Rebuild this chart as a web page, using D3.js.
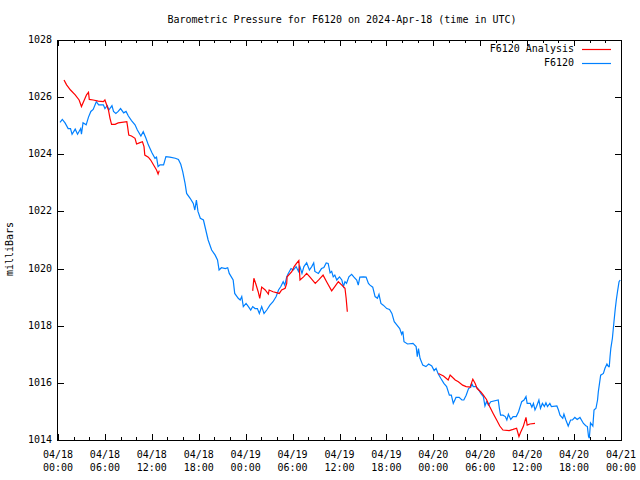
<!DOCTYPE html>
<html>
<head>
<meta charset="utf-8">
<script src="https://cdn.jsdelivr.net/npm/d3@7"></script>
<style>
  html, body { margin: 0; padding: 0; background: #fff; }
  svg { display: block; }
  text { font-family: "DejaVu Sans Mono", "Liberation Mono", monospace; font-size: 10px; fill: #000; }
</style>
</head>
<body>
<svg id="chart" width="640" height="480"></svg>
<script>
// ---- data (hours since 2024-04-18 00:00 UTC, pressure in mbar) ----
const obsHours = [0.26,0.55,0.9,1.3,1.6,1.8,2.2,2.5,2.9,3.0,3.2,3.6,3.9,4.2,4.5,4.9,5.2,5.8,6.0,6.3,6.5,6.9,7.1,7.4,7.7,8.0,8.4,8.7,9.0,9.4,9.85,10.15,10.6,10.9,11.25,11.55,12.0,12.4,12.6,12.8,13.05,13.5,13.8,14.3,15.0,15.4,15.7,15.95,16.25,16.45,16.9,17.3,17.5,17.7,17.9,18.2,18.6,18.9,19.2,19.65,20.1,20.4,20.6,20.9,21.4,21.7,21.9,22.4,22.6,23.05,23.3,23.5,23.7,24.05,24.35,24.65,24.9,25.2,25.5,25.75,26.05,26.35,26.7,27.1,27.5,27.9,28.2,28.5,28.8,29.0,29.25,29.45,29.8,30.1,30.45,30.75,30.9,31.2,31.45,31.8,32.15,32.45,32.7,32.85,33.3,33.7,34.0,34.3,34.55,34.8,35.0,35.2,35.4,35.65,36.0,36.3,36.5,36.7,36.9,37.2,37.55,37.85,38.2,38.4,38.6,39.05,39.4,39.7,39.9,40.25,40.55,40.85,41.05,41.3,41.6,42.05,42.4,42.7,43.0,43.35,43.7,43.95,44.1,44.25,44.7,45.4,45.8,45.95,46.1,46.3,46.65,47.05,47.4,47.8,48.1,48.35,48.6,48.95,49.35,49.7,50.05,50.3,50.4,50.55,50.9,51.3,51.65,51.9,52.2,52.5,52.8,52.9,53.1,53.45,53.75,54.05,54.4,54.6,54.8,55.05,55.35,56.3,56.45,56.6,56.9,57.2,57.4,57.6,57.9,58.2,58.6,58.9,59.1,59.3,59.6,59.85,60.0,60.4,60.6,60.8,61.0,61.2,61.5,61.7,61.95,62.2,62.4,62.6,62.9,63.1,63.8,64.0,64.2,64.55,64.7,64.95,65.25,65.55,65.8,66.1,66.4,66.75,67.2,67.5,67.7,67.85,67.95,68.1,68.4,68.55,68.8,69.0,69.1,69.4,69.75,69.95,70.2,70.4,70.5,70.6,70.7,70.9,71.1,71.25,71.4,71.55,71.75,71.9];
const obsPressure = [1025.12,1025.22,1025.1,1024.9,1024.9,1024.7,1024.88,1024.7,1024.9,1024.7,1025.1,1025.03,1025.3,1025.5,1025.57,1025.84,1025.73,1025.73,1025.6,1025.7,1025.55,1025.7,1025.5,1025.43,1025.5,1025.6,1025.45,1025.5,1025.34,1025.18,1025.03,1024.85,1024.64,1024.79,1024.56,1024.33,1024.06,1023.86,1023.9,1023.57,1023.63,1023.63,1023.92,1023.9,1023.86,1023.82,1023.65,1023.39,1022.98,1022.63,1022.46,1022.28,1022.05,1022.4,1022.0,1021.76,1021.7,1021.35,1021.0,1020.65,1020.47,1020.3,1019.95,1020.03,1020.0,1020.03,1019.83,1019.6,1019.13,1018.96,1018.9,1019.02,1018.67,1018.78,1018.67,1018.55,1018.67,1018.6,1018.6,1018.43,1018.67,1018.43,1018.55,1018.72,1018.84,1019.02,1019.25,1019.37,1019.54,1019.42,1019.71,1019.83,1020.0,1019.95,1020.07,1019.9,1020.1,1019.83,1020.07,1020.2,1019.95,1020.07,1020.2,1019.9,1019.83,1020.0,1020.04,1020.2,1020.18,1019.85,1019.9,1019.71,1019.77,1019.6,1019.71,1019.6,1019.37,1019.54,1019.48,1019.71,1019.8,1019.7,1019.6,1019.42,1019.7,1019.71,1019.7,1019.48,1019.42,1019.35,1019.02,1018.96,1019.1,1018.78,1018.72,1018.6,1018.57,1018.43,1018.14,1018.02,1017.9,1017.7,1017.8,1017.44,1017.36,1017.38,1017.27,1016.92,1017.2,1016.86,1016.62,1016.57,1016.66,1016.59,1016.43,1016.51,1016.33,1016.16,1015.98,1015.87,1015.57,1015.57,1015.46,1015.28,1015.49,1015.49,1015.4,1015.4,1015.57,1015.8,1015.85,1015.98,1015.87,1015.87,1015.78,1015.64,1015.52,1015.19,1015.34,1015.22,1015.34,1015.4,1015.1,1014.87,1014.87,1014.82,1014.7,1014.9,1014.72,1014.82,1014.82,1014.99,1015.17,1015.34,1015.4,1015.52,1015.28,1015.28,1015.15,1015.28,1015.05,1015.17,1015.4,1015.11,1015.28,1015.17,1015.3,1015.17,1015.28,1015.17,1015.19,1015.05,1014.87,1014.76,1014.91,1014.7,1014.49,1014.7,1014.7,1014.79,1014.72,1014.79,1014.58,1014.5,1014.47,1014.12,1014.06,1014.6,1014.49,1015.05,1015.11,1015.4,1015.69,1016.27,1016.33,1016.51,1016.66,1016.57,1016.57,1016.92,1017.21,1017.56,1018.14,1018.55,1018.9,1019.19,1019.54,1019.6];

// analysis: null entries mark gaps between runs
const anaHours = [0.77,1.1,1.6,2.2,2.7,3.0,3.65,3.9,4.0,4.5,5.15,5.8,6.0,6.45,6.65,6.85,7.3,7.7,8.8,8.9,9.05,9.4,9.85,10.05,10.4,10.8,11.0,11.1,11.55,11.85,12.3,12.6,12.8,12.95,
  13.5,
  24.9,25.05,25.3,25.6,25.8,26.05,26.5,26.9,27.0,27.5,28.05,28.3,28.6,29.05,29.25,29.3,29.9,30.2,30.5,30.8,30.95,31.4,31.8,32.2,32.9,33.4,33.9,34.35,35.0,35.4,35.85,36.3,36.7,36.85,37.0,
  40.0,
  48.65,49.3,49.9,50.15,50.8,51.2,51.75,52.2,52.7,53.05,53.35,53.6,54.05,54.4,54.8,55.2,55.65,56.1,56.5,56.9,57.7,58.2,58.65,58.95,59.15,59.5,59.85,60.0,60.35,61.0];
const anaPressure = [1026.6,1026.43,1026.25,1026.08,1025.9,1025.67,1026.08,1026.17,1025.92,1025.9,1025.86,1025.84,1025.9,1025.55,1025.26,1025.05,1025.05,1025.1,1025.14,1024.97,1024.67,1024.64,1024.56,1024.36,1024.4,1024.44,1024.27,1023.97,1023.9,1023.8,1023.59,1023.45,1023.31,1023.43,
  null,
  1019.22,1019.66,1019.46,1019.19,1018.96,1019.35,1019.25,1019.11,1019.25,1019.19,1019.15,1019.13,1019.25,1019.31,1019.48,1019.71,1019.89,1020.07,1020.18,1020.28,1019.6,1019.71,1019.83,1019.71,1019.48,1019.62,1019.77,1019.54,1019.22,1019.37,1019.54,1019.42,1019.31,1018.96,1018.49,
  null,
  1016.33,1016.24,1016.1,1016.27,1016.1,1016.04,1015.92,1015.87,1015.85,1016.13,1015.98,1015.8,1015.69,1015.57,1015.42,1015.17,1014.93,1014.7,1014.49,1014.35,1014.33,1014.37,1014.41,1014.12,1014.26,1014.47,1014.79,1014.52,1014.56,1014.58];

const xMajorTicks = [0,6,12,18,24,30,36,42,48,54,60,66,72];
const xMinorTicks = [2,4,8,10,14,16,20,22,26,28,32,34,38,40,44,46,50,52,56,58,62,64,68,70];
const xTickDates = ["04/18","04/18","04/18","04/18","04/19","04/19","04/19","04/19","04/20","04/20","04/20","04/20","04/21"];
const xTickTimes = ["00:00","06:00","12:00","18:00","00:00","06:00","12:00","18:00","00:00","06:00","12:00","18:00","00:00"];
const yTicks = [1014,1016,1018,1020,1022,1024,1026,1028];

const seriesNames = ["F6120 Analysis", "F6120"];
const seriesColors = ["#ff0000", "#0080ff"];
const titleText = "Barometric Pressure for F6120 on 2024-Apr-18 (time in UTC)";
const yLabel = "milliBars";

// ---- layout ----
const L = 58, R = 621, T = 40, B = 440;
const x = d3.scaleLinear().domain([0, 72]).range([L, R]);
const y = d3.scaleLinear().domain([1014, 1028]).range([B, T]);

const svg = d3.select("#chart");

svg.append("defs").append("clipPath").attr("id", "clip")
  .append("rect").attr("x", L).attr("y", T).attr("width", R - L).attr("height", B - T);

// title
svg.append("text").attr("x", 342).attr("y", 20).attr("text-anchor", "middle")
  .attr("dominant-baseline", "middle").text(titleText);

// y label
svg.append("text").attr("transform", "translate(10,249) rotate(-90)")
  .attr("text-anchor", "middle").attr("dominant-baseline", "middle").text(yLabel);

// ticks (inward, mirrored)
const majorLen = 6, minorLen = 3;
function styleAxis(g) {
  g.select(".domain").remove();
  g.selectAll("line").attr("stroke", "#000").attr("shape-rendering", "crispEdges");
}
svg.append("g").attr("transform", `translate(0,${B})`)
  .call(d3.axisBottom(x).tickValues(xMajorTicks).tickSizeInner(-majorLen).tickSizeOuter(0).tickFormat(""))
  .call(styleAxis);
svg.append("g").attr("transform", `translate(0,${B})`)
  .call(d3.axisBottom(x).tickValues(xMinorTicks).tickSizeInner(-minorLen).tickSizeOuter(0).tickFormat(""))
  .call(styleAxis);
svg.append("g").attr("transform", `translate(0,${T})`)
  .call(d3.axisTop(x).tickValues(xMajorTicks).tickSizeInner(-majorLen).tickSizeOuter(0).tickFormat(""))
  .call(styleAxis);
svg.append("g").attr("transform", `translate(0,${T})`)
  .call(d3.axisTop(x).tickValues(xMinorTicks).tickSizeInner(-minorLen).tickSizeOuter(0).tickFormat(""))
  .call(styleAxis);
svg.append("g").attr("transform", `translate(${L},0)`)
  .call(d3.axisLeft(y).tickValues(yTicks).tickSizeInner(-majorLen).tickSizeOuter(0).tickFormat(""))
  .call(styleAxis);
svg.append("g").attr("transform", `translate(${R},0)`)
  .call(d3.axisRight(y).tickValues(yTicks).tickSizeInner(-majorLen).tickSizeOuter(0).tickFormat(""))
  .call(styleAxis);

// y tick labels
svg.append("g").selectAll("text").data(yTicks).join("text")
  .attr("x", L - 6).attr("y", d => y(d)).attr("text-anchor", "end")
  .attr("dominant-baseline", "middle").text(d => d);

// x tick labels (two lines)
const xl = svg.append("g").selectAll("g").data(xMajorTicks).join("g");
xl.append("text").attr("x", d => x(d)).attr("y", 455).attr("text-anchor", "middle")
  .attr("dominant-baseline", "middle").text((d, i) => xTickDates[i]);
xl.append("text").attr("x", d => x(d)).attr("y", 468).attr("text-anchor", "middle")
  .attr("dominant-baseline", "middle").text((d, i) => xTickTimes[i]);

// series
const plot = svg.append("g").attr("clip-path", "url(#clip)");
const obs = obsHours.map((h, i) => [h, obsPressure[i]]);
const ana = anaHours.map((h, i) => [h, anaPressure[i]]);
const line = d3.line().defined(d => d[1] !== null).x(d => x(d[0])).y(d => y(d[1]));

plot.append("path").datum(obs).attr("d", line).attr("fill", "none")
  .attr("stroke", seriesColors[1]).attr("stroke-width", 1.2);
plot.append("path").datum(ana).attr("d", line).attr("fill", "none")
  .attr("stroke", seriesColors[0]).attr("stroke-width", 1.2);

// border
svg.append("rect").attr("x", L - 0.5).attr("y", T + 0.5).attr("width", R - L + 1).attr("height", B - T - 0.5)
  .attr("fill", "none").attr("stroke", "#000").attr("stroke-width", 1).attr("shape-rendering", "crispEdges");

// legend
const legendItems = seriesNames.map((name, i) => ({ name: name, color: seriesColors[i], row: i }));
const leg = svg.append("g").selectAll("g").data(legendItems).join("g")
  .attr("transform", d => `translate(0,${49 + d.row * 14})`);
leg.append("text").attr("x", 574).attr("y", 0).attr("text-anchor", "end")
  .attr("dominant-baseline", "middle").text(d => d.name);
leg.append("line").attr("x1", 582).attr("x2", 611).attr("y1", 0.5).attr("y2", 0.5)
  .style("stroke", d => d.color).attr("stroke-width", 1.2);
</script>
</body>
</html>
